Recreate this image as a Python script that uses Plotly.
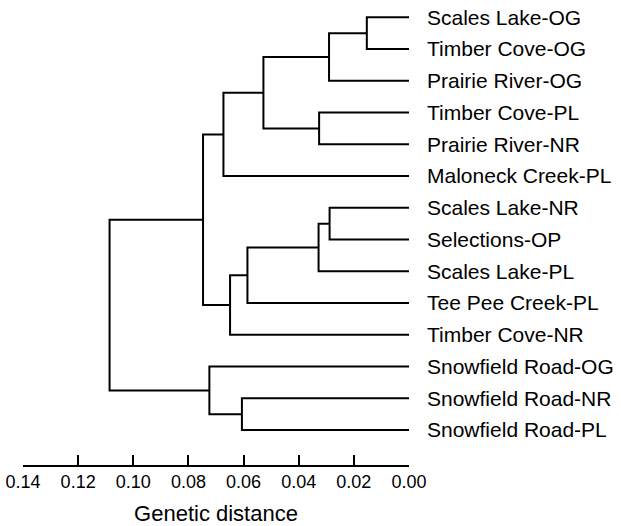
import plotly.graph_objects as go

# Leaves, top to bottom
leaves = [
    "Scales Lake-OG", "Timber Cove-OG", "Prairie River-OG", "Timber Cove-PL",
    "Prairie River-NR", "Maloneck Creek-PL", "Scales Lake-NR", "Selections-OP",
    "Scales Lake-PL", "Tee Pee Creek-PL", "Timber Cove-NR", "Snowfield Road-OG",
    "Snowfield Road-NR", "Snowfield Road-PL",
]

# Merges: (node name, child a, child b, genetic distance)
merge_nodes = ["n1", "n2", "n3", "n4", "n5", "n6", "n7", "n8", "n9", "n10", "n11", "n12", "n13"]
merge_a = ["Scales Lake-OG", "n1", "Timber Cove-PL", "n2", "n4", "Scales Lake-NR", "n6",
           "n7", "n8", "n5", "Snowfield Road-NR", "Snowfield Road-OG", "n10"]
merge_b = ["Timber Cove-OG", "Prairie River-OG", "Prairie River-NR", "n3", "Maloneck Creek-PL",
           "Selections-OP", "Scales Lake-PL", "Tee Pee Creek-PL", "Timber Cove-NR", "n9",
           "Snowfield Road-PL", "n11", "n12"]
merge_height = [0.0153, 0.0290, 0.0326, 0.0528, 0.0673, 0.0288, 0.0328,
                0.0586, 0.0649, 0.0747, 0.0606, 0.0724, 0.1086]

x_ticks = [0.14, 0.12, 0.10, 0.08, 0.06, 0.04, 0.02, 0.00]

# Compute node positions
pos_y = {name: i for i, name in enumerate(leaves)}
pos_x = {name: 0.0 for name in leaves}
xs, ys = [], []
for node, a, b, h in zip(merge_nodes, merge_a, merge_b, merge_height):
    ya, yb = pos_y[a], pos_y[b]
    xs += [pos_x[a], h, h, pos_x[b], None]
    ys += [ya, ya, yb, yb, None]
    pos_x[node] = h
    pos_y[node] = (ya + yb) / 2

fig = go.Figure()
fig.add_trace(go.Scatter(x=xs, y=ys, mode="lines",
                         line=dict(color="black", width=2),
                         hoverinfo="skip", showlegend=False))

font = "Liberation Sans, Arial, Helvetica, sans-serif"
fig.update_layout(
    width=621, height=526,
    margin=dict(l=23, r=212, t=0, b=61),
    paper_bgcolor="white", plot_bgcolor="white",
    font=dict(family=font, color="black"),
    xaxis=dict(
        range=[0.14, 0.0],
        automargin=False,
        tickvals=x_ticks,
        ticktext=[f"{v:.2f}" for v in x_ticks],
        ticks="inside", ticklen=10, tickwidth=1.5, tickcolor="black",
        showline=True, linecolor="black", linewidth=1.5,
        showgrid=False, zeroline=False,
        tickfont=dict(size=18),
        ticklabelstandoff=0,
        title=dict(text="Genetic distance", font=dict(size=22), standoff=25),
    ),
    yaxis=dict(
        range=[14.1, -0.545],
        automargin=False,
        side="right",
        tickvals=list(range(len(leaves))),
        ticktext=leaves,
        ticks="", showline=False, showgrid=False, zeroline=False,
        tickfont=dict(size=21),
        ticklabelstandoff=17,
    ),
)

fig.write_html("out.html", config={"displayModeBar": False},
               post_script="document.body.style.margin='0';")
